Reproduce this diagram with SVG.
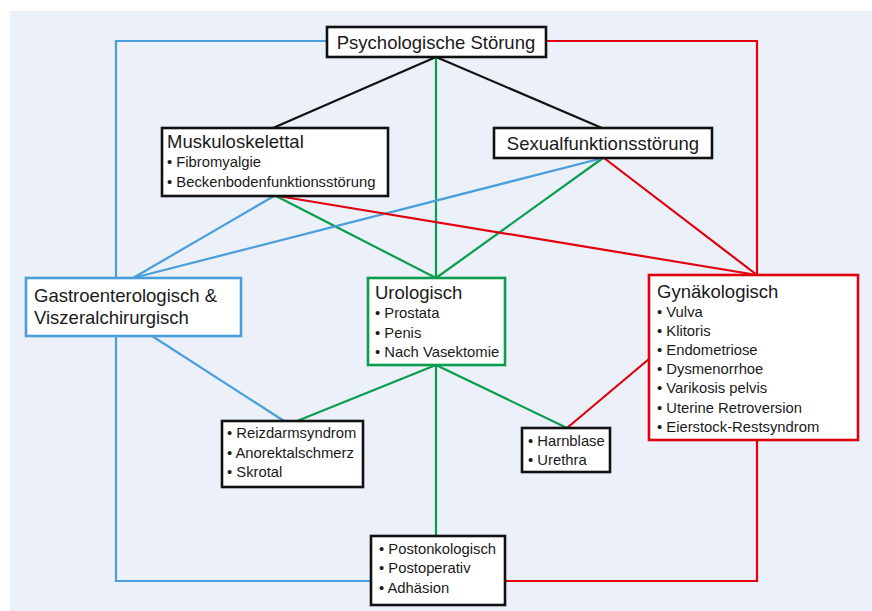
<svg xmlns="http://www.w3.org/2000/svg" width="872" height="611" viewBox="0 0 872 611">
<style>
.bg{fill:#ebf0f9}
.box{fill:#fff;stroke-width:2.6}
.k{stroke:#111}
.b{stroke:#4a9edb}
.g{stroke:#0a9d4f}
.r{stroke:#e2000f}
.ln{fill:none;stroke-width:2.2}
.t{font-family:"Liberation Sans",Arial,sans-serif;font-size:18.5px;fill:#1a1a1a}
.i{font-family:"Liberation Sans",Arial,sans-serif;font-size:14.8px;fill:#1a1a1a}
</style>
<rect class="bg" x="10" y="11" width="862" height="600"/>
<g id="connectors">
  <polyline class="ln b" points="327,41 116,41 116,278"/>
  <polyline class="ln b" points="116,336 116,581 371,581"/>
  <polyline class="ln r" points="546,41 757,41 757,275"/>
  <polyline class="ln r" points="757,440 757,581 505,581"/>
  <line class="ln k" x1="436" y1="57" x2="273" y2="128"/>
  <line class="ln k" x1="436" y1="57" x2="602" y2="128"/>
  <line class="ln g" x1="436" y1="57" x2="436" y2="278"/>
  <line class="ln g" x1="276" y1="196" x2="436" y2="278"/>
  <line class="ln g" x1="603" y1="158" x2="436" y2="278"/>
  <line class="ln b" x1="274" y1="196" x2="133" y2="278"/>
  <line class="ln b" x1="603" y1="158" x2="133" y2="278"/>
  <line class="ln r" x1="278" y1="196" x2="757" y2="275"/>
  <line class="ln r" x1="604" y1="158" x2="757" y2="275"/>
  <line class="ln b" x1="152" y1="336" x2="284" y2="421"/>
  <line class="ln g" x1="436" y1="365" x2="297" y2="421"/>
  <line class="ln g" x1="436" y1="365" x2="567" y2="428"/>
  <line class="ln g" x1="436" y1="365" x2="436" y2="536"/>
  <line class="ln r" x1="649" y1="359" x2="567" y2="428"/>
</g>
<g id="psychologische">
  <rect class="box k" x="327" y="27" width="219" height="30"/>
  <text class="t" x="436" y="49" text-anchor="middle">Psychologische Störung</text>
</g>
<g id="muskuloskelettal">
  <rect class="box k" x="162" y="128" width="226" height="68"/>
  <text class="t" x="167" y="148">Muskuloskelettal</text>
  <text class="i" x="167" y="167">• Fibromyalgie</text>
  <text class="i" x="167" y="187">• Beckenbodenfunktionsstörung</text>
</g>
<g id="sexualfunktion">
  <rect class="box k" x="494" y="128" width="218" height="30"/>
  <text class="t" x="603" y="150" text-anchor="middle">Sexualfunktionsstörung</text>
</g>
<g id="gastro">
  <rect class="box b" x="26" y="278" width="215" height="58"/>
  <text class="t" x="34" y="302">Gastroenterologisch &amp;</text>
  <text class="t" x="34" y="324">Viszeralchirurgisch</text>
</g>
<g id="urologisch">
  <rect class="box g" x="368" y="278" width="137" height="87"/>
  <text class="t" x="375" y="299">Urologisch</text>
  <text class="i" x="375" y="318">• Prostata</text>
  <text class="i" x="375" y="338">• Penis</text>
  <text class="i" x="375" y="357">• Nach Vasektomie</text>
</g>
<g id="gynaekologisch">
  <rect class="box r" x="649" y="275" width="209" height="165"/>
  <text class="t" x="657" y="298">Gynäkologisch</text>
  <text class="i" x="657" y="317">• Vulva</text>
  <text class="i" x="657" y="336">• Klitoris</text>
  <text class="i" x="657" y="355">• Endometriose</text>
  <text class="i" x="657" y="374">• Dysmenorrhoe</text>
  <text class="i" x="657" y="393">• Varikosis pelvis</text>
  <text class="i" x="657" y="413">• Uterine Retroversion</text>
  <text class="i" x="657" y="432">• Eierstock-Restsyndrom</text>
</g>
<g id="reizdarm">
  <rect class="box k" x="222" y="421" width="141" height="66"/>
  <text class="i" x="227" y="438">• Reizdarmsyndrom</text>
  <text class="i" x="227" y="458">• Anorektalschmerz</text>
  <text class="i" x="227" y="477">• Skrotal</text>
</g>
<g id="harnblase">
  <rect class="box k" x="522" y="428" width="88" height="44"/>
  <text class="i" x="528" y="446">• Harnblase</text>
  <text class="i" x="528" y="465">• Urethra</text>
</g>
<g id="postoperativ">
  <rect class="box k" x="371" y="536" width="134" height="69"/>
  <text class="i" x="379" y="554">• Postonkologisch</text>
  <text class="i" x="379" y="573">• Postoperativ</text>
  <text class="i" x="379" y="593">• Adhäsion</text>
</g>
</svg>
